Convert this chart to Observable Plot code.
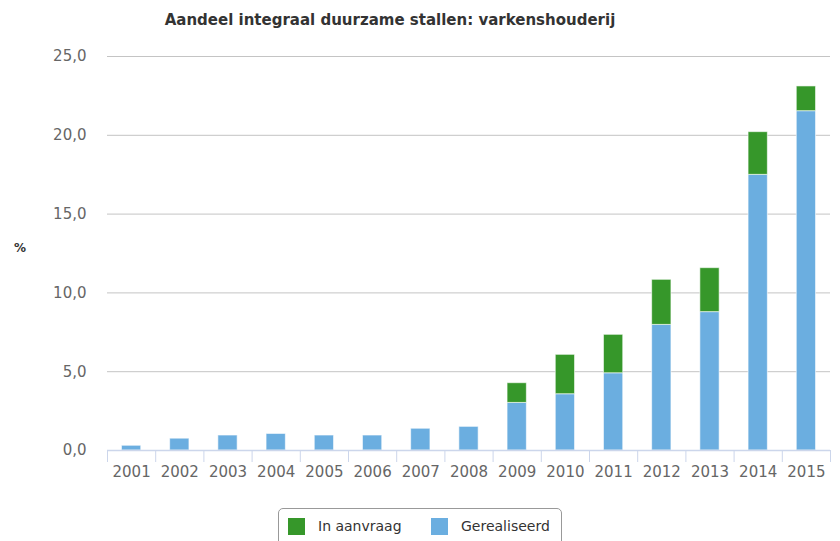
<!DOCTYPE html>
<html>
<head>
<meta charset="utf-8">
<script src="https://cdn.jsdelivr.net/npm/d3@7"></script>
<script src="https://cdn.jsdelivr.net/npm/@observablehq/plot@0.6"></script>
<style>
  html, body { margin: 0; padding: 0; background: #fff; overflow: hidden; }
  #wrap { position: relative; width: 840px; height: 541px; font-family: "DejaVu Sans", Verdana, sans-serif; }
  #title { height: 40px; line-height: 40px; text-align: center; padding-right: 60px; font-size: 15px; font-weight: bold; color: #333; }
  #unit { position: absolute; left: 14px; top: 241px; font-size: 12px; font-weight: bold; color: #333; }
  #legend { position: absolute; left: 278px; top: 508px; width: 284px; height: 44px; border: 1px solid #999; border-radius: 5px; box-sizing: border-box; font-size: 14px; color: #333; }
  .item { position: absolute; top: 9px; height: 17px; line-height: 17px; }
  .sw { display: inline-block; width: 17px; height: 17px; vertical-align: top; margin-right: 13px; }
</style>
</head>
<body>
<div id="wrap">
  <div id="title">Aandeel integraal duurzame stallen: varkenshouderij</div>
  <div id="chart"></div>
  <div id="unit">%</div>
  <div id="legend"></div>
</div>
<script>
const years = [2001, 2002, 2003, 2004, 2005, 2006, 2007, 2008, 2009, 2010, 2011, 2012, 2013, 2014, 2015];
const gerealiseerd = [0.3, 0.75, 0.95, 1.05, 0.95, 0.95, 1.38, 1.5, 3.02, 3.57, 4.9, 7.97, 8.78, 17.49, 21.53];
const inAanvraag = [0, 0, 0, 0, 0, 0, 0, 0, 1.25, 2.5, 2.44, 2.86, 2.79, 2.71, 1.57];
const seriesNames = ["Gerealiseerd", "In aanvraag"];
const seriesColors = ["#6baee0", "#36972a"];
const yTicks = [0, 5, 10, 15, 20, 25];

const data = [];
years.forEach((yr, i) => {
  data.push({year: yr, serie: seriesNames[0], value: gerealiseerd[i]});
  if (inAanvraag[i] > 0) data.push({year: yr, serie: seriesNames[1], value: inAanvraag[i]});
});
const boundaries = years.map(y => y - 0.5).concat([years[years.length - 1] + 0.5]);
const fmt = d => d3.format(".1f")(d).replace(".", ",");

const chart = Plot.plot({
  width: 840,
  height: 455,
  marginTop: 16,
  marginLeft: 107,
  marginRight: 10,
  marginBottom: 45,
  style: {fontFamily: "DejaVu Sans, Verdana, sans-serif", fontSize: "15px", color: "#666", background: "#fff"},
  x: {domain: [years[0] - 0.5, years[years.length - 1] + 0.5]},
  y: {domain: [0, 25]},
  color: {domain: seriesNames, range: seriesColors},
  marks: [
    Plot.gridY(yTicks.filter(d => d > 0), {stroke: "#c4c4c4", strokeOpacity: 1}),
    Plot.axisY(yTicks, {tickSize: 0, tickPadding: 21, tickFormat: fmt, fill: "#666", label: null}),
    Plot.rectY(data, Plot.stackY({
      x1: d => d.year - 0.2,
      x2: d => d.year + 0.2,
      y: "value",
      fill: "serie",
      order: seriesNames,
      stroke: "#fff",
      strokeOpacity: 0.6,
      strokeWidth: 1
    })),
    Plot.ruleY([0], {stroke: "#ccd6eb", strokeWidth: 1.5}),
    Plot.axisX(boundaries, {tickSize: 12, stroke: "#ccd6eb", tickFormat: () => "", label: null}),
    Plot.axisX(years, {tickSize: 0, tickPadding: 16, tickFormat: d => String(d), fill: "#666", label: null})
  ]
});
document.getElementById("chart").appendChild(chart);

const legend = document.getElementById("legend");
const legendOrder = [1, 0];
const lefts = [9, 152];
legendOrder.forEach((si, k) => {
  const it = document.createElement("div");
  it.className = "item";
  it.style.left = lefts[k] + "px";
  const sw = document.createElement("span");
  sw.className = "sw";
  sw.style.background = seriesColors[si];
  it.appendChild(sw);
  it.appendChild(document.createTextNode(seriesNames[si]));
  legend.appendChild(it);
});
</script>
</body>
</html>
